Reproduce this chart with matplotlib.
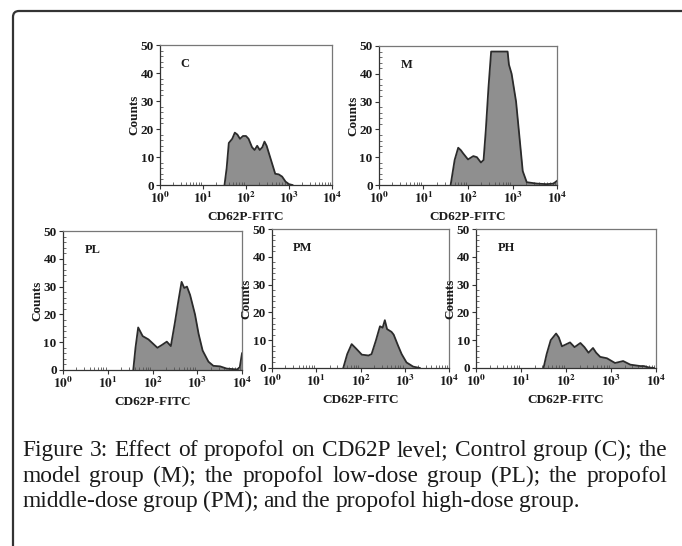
import numpy as np
import matplotlib.pyplot as plt
from matplotlib.patches import FancyBboxPatch
from matplotlib.ticker import MultipleLocator, LogLocator, NullFormatter, FixedLocator

plt.rcParams['mathtext.fontset'] = 'stix'
plt.rcParams['font.family'] = 'Liberation Serif'

# histogram outlines: x in decades (log10 of CD62P-FITC), y in counts
c_x = [1.50, 1.55, 1.60, 1.68, 1.74, 1.80, 1.86, 1.93, 2.00, 2.06, 2.14, 2.20, 2.26, 2.32, 2.38,
       2.43, 2.48, 2.56, 2.62, 2.68, 2.76, 2.84, 2.92, 3.00, 3.08]
c_y = [0, 6, 15, 16.5, 18.7, 18, 16.5, 17.5, 17.5, 16.5, 13.5, 12.5, 14, 12.5, 13.5,
       15.5, 14, 10, 7, 4, 3.8, 3, 1.2, 0.3, 0]

m_x = [1.61, 1.70, 1.78, 1.84, 1.89, 2.00, 2.12, 2.20, 2.29, 2.35, 2.40, 2.46, 2.52, 2.89, 2.92,
       2.98, 3.08, 3.17, 3.23, 3.32, 3.55, 3.77, 3.92, 4.00]
m_y = [0, 9, 13.4, 12.5, 11.4, 9.2, 10.4, 10, 8.1, 9, 19.7, 35, 48, 48, 43.3,
       40, 30, 15, 5, 1, 0.5, 0.3, 0.5, 1.5]

pl_x = [1.57, 1.62, 1.68, 1.78, 1.91, 2.11, 2.21, 2.32, 2.41, 2.50, 2.58, 2.65, 2.71, 2.77, 2.84,
        2.95, 3.03, 3.12, 3.25, 3.36, 3.51, 3.66, 3.89, 3.95, 4.00]
pl_y = [0, 8, 15.3, 12.2, 11, 8, 9, 10.2, 8.6, 17, 25, 31.7, 29.5, 30, 27,
        20, 13, 7, 3, 1.5, 1.3, 0.5, 0.2, 1, 6]

pm_x = [1.61, 1.70, 1.80, 1.90, 2.03, 2.18, 2.25, 2.35, 2.44, 2.50, 2.55, 2.60, 2.70, 2.75, 2.85,
        2.93, 3.04, 3.19, 3.34]
pm_y = [0, 5, 8.6, 7, 4.8, 4.5, 5, 10, 15, 14.5, 17.2, 14, 13, 12, 8,
        5, 2, 0.5, 0]

ph_x = [1.50, 1.57, 1.66, 1.78, 1.84, 1.91, 2.00, 2.09, 2.19, 2.32, 2.41, 2.50, 2.60, 2.67, 2.76,
        2.91, 3.09, 3.27, 3.43, 3.65, 3.73, 3.84, 3.95]
ph_y = [0, 5, 10, 12.4, 11, 7.8, 8.5, 9.2, 7.5, 9, 7.5, 5.5, 7.2, 5.5, 4,
        3.5, 1.8, 2.5, 1.2, 0.7, 0.7, 0.2, 0]

panels = [
    ('C', c_x, c_y, [160, 45, 332, 185]),
    ('M', m_x, m_y, [379, 46, 557, 185]),
    ('PL', pl_x, pl_y, [63, 231, 242, 370]),
    ('PM', pm_x, pm_y, [272, 229, 449, 368]),
    ('PH', ph_x, ph_y, [476, 229, 656, 368]),
]

caption = ["Figure 3: Effect of propofol on CD62P level; Control group (C); the",
           "model group (M); the propofol low-dose group (PL); the propofol",
           "middle-dose group (PM); and the propofol high-dose group."]

W, H = 682, 546
fig = plt.figure(figsize=(W / 100, H / 100), dpi=100)

# rounded frame, open to the right and bottom
frame = FancyBboxPatch((0.13, -0.5), 7.5, 5.85, boxstyle='round,pad=0,rounding_size=0.06',
                       transform=fig.dpi_scale_trans, fill=False, edgecolor='#333333', lw=1.6)
fig.patches.append(frame)

for name, xs, ys, (l, t, r, b) in panels:
    ax = fig.add_axes([l / W, (H - b) / H, (r - l) / W, (b - t) / H])
    x = 10 ** np.array(xs)
    ax.fill_between(x, ys, 0, color='#8f8f8f', lw=0)
    ax.plot(x, ys, color='#2b2b2b', lw=1.3)
    ax.set_xscale('log')
    ax.set_xlim(1, 1e4)
    ax.set_ylim(0, 50)
    ax.xaxis.set_major_locator(FixedLocator([1, 10, 100, 1000, 10000]))
    ax.set_xticklabels([r'$\mathbf{10^{%d}}$' % i for i in range(5)])
    ax.xaxis.set_minor_locator(LogLocator(base=10, subs=np.arange(2, 10), numticks=20))
    ax.xaxis.set_minor_formatter(NullFormatter())
    ax.yaxis.set_major_locator(MultipleLocator(10))
    ax.yaxis.set_minor_locator(MultipleLocator(2))
    ax.tick_params(which='major', direction='out', length=3, width=0.8, color='#333333',
                   labelsize=9.5, pad=1.5, labelcolor='#1a1a1a')
    ax.tick_params(which='minor', direction='in', length=2, width=0.6, color='#555555')
    for lab in ax.get_yticklabels():
        lab.set_fontweight('bold')
    for side, sp in ax.spines.items():
        sp.set_color('#333333' if side in ('left', 'bottom') else '#777777')
        sp.set_linewidth(0.9)
    ax.set_ylabel('Counts', fontsize=9.5, fontweight='bold', labelpad=0, color='#1a1a1a')
    ax.set_xlabel('CD62P-FITC', fontsize=9.5, fontweight='bold', labelpad=3, color='#1a1a1a')
    ax.text(0.12, 0.84, name, transform=ax.transAxes, fontsize=9, fontweight='bold',
            color='#1a1a1a')

# justified caption
renderer = fig.canvas.get_renderer()
x0, x1 = 22, 667
base = [456, 482, 507]
for i, line in enumerate(caption):
    words = line.split()
    txts = [fig.text(0, 1 - base[i] / H, w, fontsize=16.8, color='#1a1a1a', va='baseline')
            for w in words]
    widths = [tt.get_window_extent(renderer).width for tt in txts]
    if i < len(caption) - 1:
        gap = (x1 - x0 - sum(widths)) / (len(words) - 1)
    else:
        gap = 5
    xp = x0
    for tt, wd in zip(txts, widths):
        tt.set_x(xp / W)
        xp += wd + gap

fig.savefig('out.png', dpi=100)
